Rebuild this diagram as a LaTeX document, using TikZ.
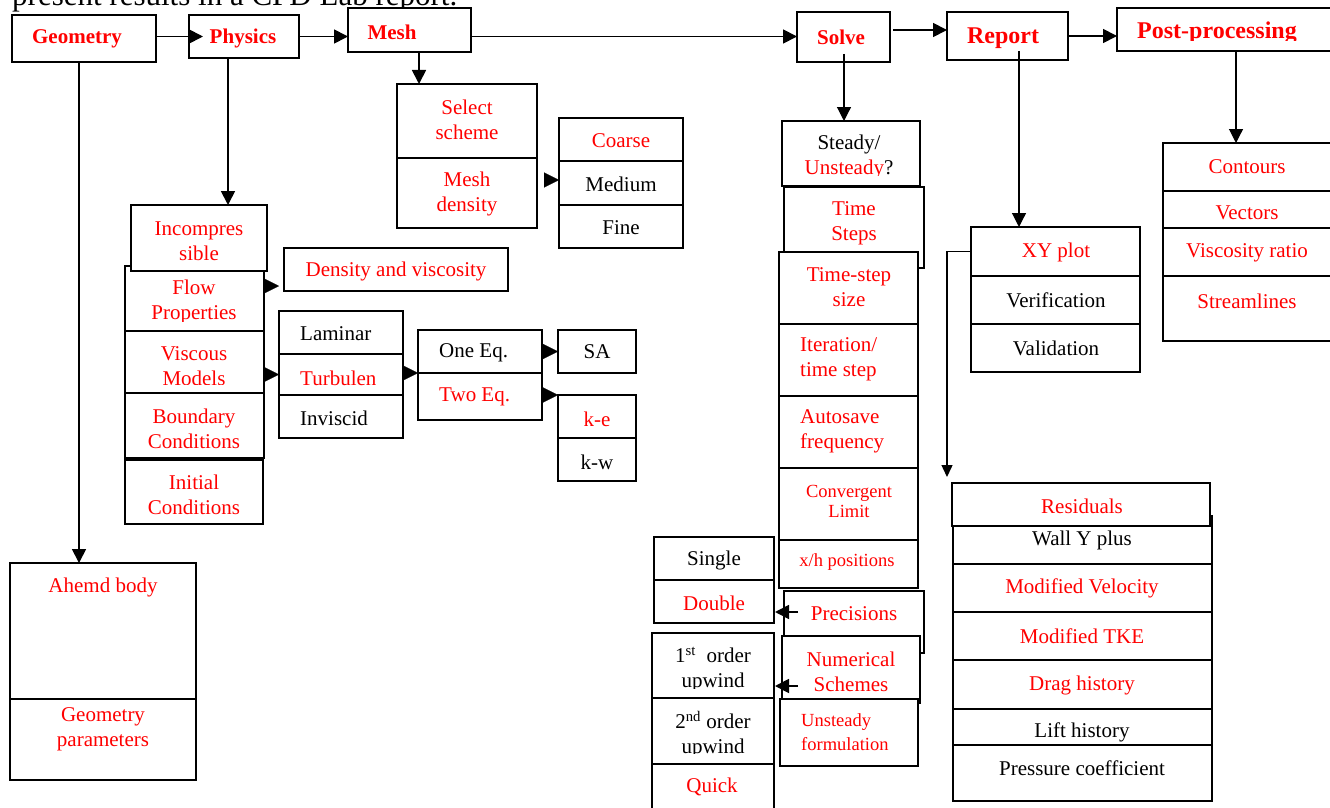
\documentclass[tikz,border=0pt]{standalone}
\usepackage{fontspec}
\setmainfont{Liberation Serif}
\usetikzlibrary{arrows.meta}
\definecolor{tred}{RGB}{255,0,0}
\tikzset{
  box/.style={draw=black, line width=2pt, fill=white, inner sep=0pt, outer sep=0pt},
  txt/.style={inner sep=0pt, align=center, text=tred, font=\fontsize{21}{25}\selectfont},
  blk/.style={text=black},
  sm/.style={font=\fontsize{18.5}{21}\selectfont},
  hd/.style={font=\bfseries\fontsize{21}{25}\selectfont},
  hdl/.style={font=\bfseries\fontsize{24}{28}\selectfont},
  lft/.style={anchor=west, align=left},
  conn/.style={line width=1.8pt, -{Triangle[length=14pt,width=14pt]}},
  thin/.style={line width=1.2pt, -{Triangle[length=14pt,width=14pt]}},
  tri/.style={line width=0.1pt, -{Triangle[length=15pt,width=15pt]}},
}
\newcommand{\bx}[5]{\node[box, minimum width={#4-#2}, minimum height={#5-#3}] (#1) at ({(#2+#4)/2},{(#3+#5)/2}) {};}
\newcommand{\tx}[5][]{\node[txt,#1] (#2) at (#3,#4) {#5};}
% clipped text: \ctx[opts]{name}{x}{y}{text}{cut-y}
\newcommand{\ctx}[6][]{\begin{scope}\clip (0,0) rectangle (1330,#6);\node[txt,#1] (#2) at (#3,#4) {#5};\end{scope}}
\begin{document}
\begin{tikzpicture}[x=1pt,y=-1pt]
\useasboundingbox (0,0) rectangle (1330,808);
\clip (0,0) rectangle (1330,808);
\fill[white] (0,0) rectangle (1330,808);
% cut heading text
\node[anchor=base west, inner sep=0pt, font=\fontsize{31}{31}\selectfont] (cut) at (12,6) {present results in a CFD Lab report.};
% top row
\bx{geo}{12}{15}{156}{62}
\tx[hd]{geot}{77}{39}{Geometry}
\bx{phys}{189}{15}{299}{58}
\tx[hd]{physt}{243}{38}{Physics}
\bx{mesh}{348}{8}{471}{52}
\tx[hd]{mesht}{392}{32}{Mesh}
\bx{solve}{797}{12}{890}{62}
\tx[hd]{solvet}{841}{37}{Solve}
\bx{report}{947}{12}{1068}{60}
\tx[hdl]{reportt}{1003}{38}{Report}
\bx{post}{1117}{8}{1345}{51}
\ctx[hdl]{postt}{1217}{33}{Post-processing}{41}
% top connectors
\draw[conn] (geo.east |- phys.west) -- ([xshift=14pt]phys.west);
\draw[conn] (phys.east) -- (phys.east -| mesh.west);
\draw[conn] (mesh.east |- phys.east) -- (phys.east -| solve.west);
\coordinate (sr) at ([xshift=3pt,yshift=7pt]solve.east);
\draw[conn] (sr) -- (sr -| report.west);
\draw[conn] (report.east) -- (report.east -| post.west);
% Geometry branch
\bx{ahemd}{10}{563}{196}{699}
\tx{ahemdt}{103}{587}{Ahemd body}
\bx{gparam}{10}{699}{196}{780}
\tx{gparamt}{103}{729}{Geometry\\parameters}
\coordinate (geodn) at ([xshift=-5pt]geo.south);
\draw[conn] (geodn) -- (geodn |- ahemd.north);
% Physics branch
\bx{flow}{125}{266}{264}{331}
\ctx{flowt}{194}{301.5}{Flow\\Properties}{321}
\bx{visc}{125}{331}{264}{393}
\ctx{visct}{194}{366}{Viscous\\Models}{384}
\bx{bound}{125}{393}{264}{458}
\tx{boundt}{194}{429}{Boundary\\Conditions}
\bx{init}{125}{460}{263}{524}
\tx{initt}{194}{495}{Initial\\Conditions}
\bx{inc}{131}{205}{267}{271}
\tx{inct}{199}{241}{Incompres\\sible}
\coordinate (physdn) at ([xshift=-16pt]phys.south);
\draw[conn] (physdn) -- (physdn |- inc.north);
\bx{dens}{284}{248}{508}{291}
\tx{denst}{396}{271}{Density and viscosity}
\bx{lam}{279}{311}{403}{354}
\tx[blk,lft]{lamt}{300}{334}{Laminar}
\bx{turb}{279}{354}{403}{395}
\tx[lft]{turbt}{300}{378}{Turbulen}
\bx{invis}{279}{395}{403}{438}
\tx[blk,lft]{invist}{300}{418}{Inviscid}
\bx{oneeq}{418}{330}{542}{373}
\tx[blk,lft]{oneeqt}{439}{353}{One Eq.}
\bx{twoeq}{418}{373}{542}{420}
\tx[lft]{twoeqt}{439}{397}{Two Eq.}
\bx{sa}{558}{330}{636}{373}
\tx[blk]{sat}{597}{352}{SA}
\bx{ke}{558}{395}{636}{438}
\tx{ket}{597}{419}{k-e}
\bx{kw}{558}{438}{636}{481}
\tx[blk]{kwt}{597}{462}{k-w}
\coordinate (fa) at ([yshift=12.5pt]flow.east);
\draw[tri] (fa) -- ([xshift=-5pt]fa -| dens.west);
\draw[tri] (visc.east |- turb.west) -- (turb.west);
\draw[tri] (turb.east |- oneeq.south) -- (oneeq.south west);
\draw[tri] ([xshift=1pt]oneeq.east |- sa.west) -- (sa.west);
\draw[tri] ([xshift=1pt]twoeq.east |- ke.north west) -- (ke.north west);
% Mesh branch
\bx{sel}{397}{84}{537}{158}
\tx{selt}{467}{119.5}{Select\\scheme}
\bx{mden}{397}{158}{537}{228}
\tx{mdent}{467}{193.5}{Mesh\\density}
\bx{coarse}{559}{118}{683}{161}
\tx{coarset}{621}{141}{Coarse}
\bx{medium}{559}{161}{683}{205}
\tx[blk]{mediumt}{621}{184}{Medium}
\bx{fine}{559}{205}{683}{248}
\tx[blk]{finet}{621}{228}{Fine}
\coordinate (meshdn) at ([xshift=9.5pt]mesh.south);
\draw[conn] (meshdn) -- (meshdn |- sel.north);
\coordinate (ma) at ([xshift=7pt,yshift=3pt]mden.east |- medium.west);
\draw[tri] (ma) -- (ma -| medium.west);
% Solve branch
\bx{steady}{782}{121}{920}{186}
\begin{scope}\clip (0,0) rectangle (1330,175);
\node[txt, blk] (steadyt) at (849,156.5) {Steady/\\\textcolor{tred}{Unsteady}?};
\end{scope}
\bx{tsteps}{784}{187}{924}{268}
\tx{tstepst}{854}{223}{Time\\Steps}
\bx{tssize}{779}{252}{918}{324}
\tx{tssizet}{849}{287.5}{Time-step\\size}
\bx{iter}{779}{324}{918}{396}
\tx[lft]{itert}{800}{359.5}{Iteration/\\time step}
\bx{autos}{779}{396}{918}{468}
\tx[lft]{autost}{800}{431.5}{Autosave\\frequency}
\bx{conv}{779}{468}{918}{540}
\node[txt, sm, font=\fontsize{18.5}{20}\selectfont] (convt) at (849,501) {Convergent\\Limit};
\bx{xh}{779}{540}{918}{588}
\tx[sm]{xht}{847}{562}{x/h positions}
\bx{prec}{784}{591}{924}{653}
\tx{prect}{854}{614}{Precisions}
\bx{numer}{782}{636}{920}{703}
\tx{numert}{851}{671.5}{Numerical\\Schemes}
\bx{unst}{780}{699}{918}{766}
\node[txt, lft, font=\fontsize{18.5}{24}\selectfont] (unstt) at (801,732) {Unsteady\\formulation};
\coordinate (solvedn) at ([xshift=0.5pt,yshift=8pt]solve.south);
\draw[thin] (solvedn) -- (solvedn |- steady.north);
\bx{single}{654}{537}{774}{580}
\tx[blk]{singlet}{714}{560}{Single}
\bx{double}{654}{580}{774}{623}
\tx{doublet}{714}{603}{Double}
\bx{first}{652}{633}{774}{698}
\ctx[blk]{firstt}{713}{669.5}{1\textsuperscript{st}~ order\\upwind}{688}
\bx{second}{652}{698}{774}{764}
\ctx[blk]{secondt}{713}{734.5}{2\textsuperscript{nd} order\\upwind}{753}
\bx{quick}{652}{764}{774}{830}
\tx{quickt}{712}{787}{Quick}
\coordinate (pa) at ([xshift=14pt,yshift=10pt]prec.west);
\draw[conn] (pa) -- ([xshift=1pt]pa -| double.east);
\coordinate (na) at ([xshift=16pt,yshift=-16.5pt]numer.west);
\draw[conn] (na) -- ([xshift=1pt]na -| first.east);
% Report branch
\bx{xy}{971}{227}{1140}{276}
\tx{xyt}{1056}{252}{XY plot}
\bx{verif}{971}{276}{1140}{324}
\tx[blk]{veriftt}{1056}{300}{Verification}
\bx{valid}{971}{324}{1140}{372}
\tx[blk]{validt}{1056}{348}{Validation}
\coordinate (repdn) at ([xshift=11.5pt,yshift=9pt]report.south);
\draw[thin] (repdn) -- (repdn |- xy.north);
\bx{wally}{953}{516}{1212}{564}
\tx[blk]{wallyt}{1082}{540}{Wall Y plus}
\bx{modvel}{953}{564}{1212}{612}
\tx{modvelt}{1082}{588}{Modified Velocity}
\bx{modtke}{953}{612}{1212}{660}
\tx{modtket}{1082}{636}{Modified TKE}
\bx{drag}{953}{660}{1212}{709}
\tx{dragt}{1082}{685}{Drag history}
\bx{lift}{953}{709}{1212}{745}
\ctx[blk]{liftt}{1082}{732}{Lift history}{741}
\bx{press}{953}{745}{1212}{801}
\tx[blk]{presst}{1082}{768}{Pressure coefficient}
\bx{resid}{952}{483}{1210}{526}
\tx{residt}{1082}{506}{Residuals}
\coordinate (ra) at ([xshift=-5pt,yshift=6pt]resid.north west);
\draw[line width=1.4pt, -{Triangle[length=12pt,width=11pt]}] (xy.west) -| (ra);
% Post branch
\bx{cont}{1163}{143}{1345}{191}
\tx{contt}{1247}{167}{Contours}
\bx{vect}{1163}{191}{1345}{228}
\ctx{vectt}{1247}{213}{Vectors}{222}
\bx{viscr}{1163}{228}{1345}{276}
\tx{viscrt}{1247}{253}{Viscosity ratio}
\bx{stream}{1163}{276}{1345}{341}
\tx{streamt}{1247}{301}{Streamlines}
\coordinate (postdn) at ([xshift=0pt]post.south -| contt.north);
\coordinate (postdn2) at ([xshift=-11pt]postdn);
\draw[thin] (postdn2) -- (postdn2 |- cont.north);
\end{tikzpicture}
\end{document}
